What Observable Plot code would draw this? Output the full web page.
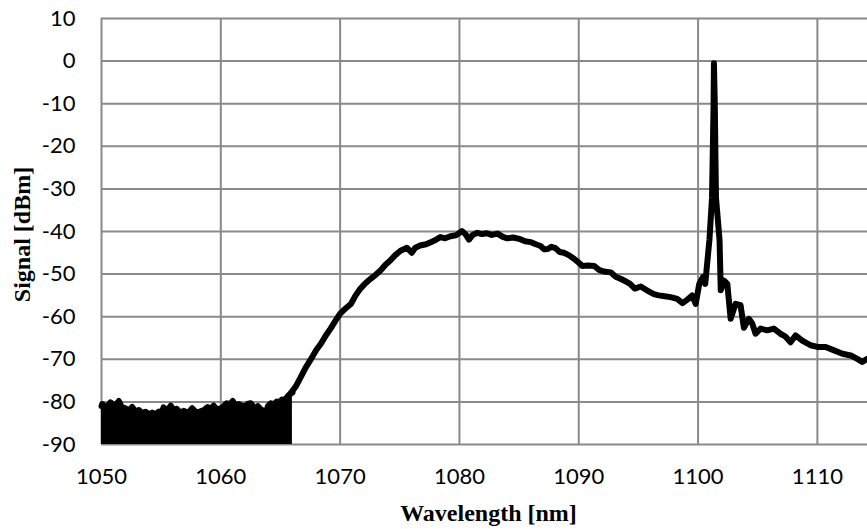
<!DOCTYPE html>
<html>
<head>
<meta charset="utf-8">
<script src="https://cdn.jsdelivr.net/npm/d3@7"></script>
<script src="https://cdn.jsdelivr.net/npm/@observablehq/plot@0.6"></script>
<style>
  html, body { margin: 0; padding: 0; background: #ffffff; }
  #chart { width: 867px; height: 529px; }
</style>
</head>
<body>
<div id="chart"></div>
<script>
// Noise floor (upper envelope of the dense noise band, filled down to -90)
const noiseNm = [1050.0, 1050.06, 1050.4, 1050.75, 1051.1, 1051.45, 1051.7, 1052.0, 1052.3, 1052.57, 1052.85, 1053.13, 1053.4, 1053.69, 1054.0, 1054.25, 1054.5, 1054.8, 1055.0, 1055.2, 1055.5, 1055.8, 1056.05, 1056.3, 1056.6, 1056.9, 1057.25, 1057.6, 1057.9, 1058.2, 1058.55, 1058.9, 1059.15, 1059.4, 1059.7, 1060.0, 1060.25, 1060.5, 1060.75, 1061.0, 1061.25, 1061.5, 1061.8, 1062.1, 1062.3, 1062.5, 1062.7, 1062.9, 1063.1, 1063.3, 1063.5, 1063.7, 1063.95, 1064.2, 1064.45, 1064.7, 1064.9, 1065.1, 1065.4, 1065.7, 1066.0];
const noiseDb = [-81.0, -80.5, -81.3, -80.1, -81.0, -79.8, -81.2, -81.5, -82.0, -81.2, -82.2, -81.9, -82.6, -82.3, -82.9, -82.5, -82.9, -82.3, -83.0, -81.3, -82.0, -80.9, -81.9, -81.6, -82.5, -82.1, -82.6, -81.5, -82.4, -82.3, -82.0, -81.2, -81.6, -80.9, -81.8, -81.5, -81.0, -80.3, -80.6, -79.8, -80.9, -80.5, -81.0, -80.9, -80.4, -80.3, -81.0, -81.5, -81.0, -81.6, -82.0, -83.3, -81.0, -80.3, -80.6, -79.9, -80.2, -79.5, -79.4, -78.4, -77.8];

// Main trace (rising edge, ASE hump, laser line, tail)
const signalNm = [1065.5, 1065.9, 1066.3, 1066.7, 1067.1, 1067.5, 1068.0, 1068.4, 1068.8, 1069.2, 1069.6, 1070.0, 1070.4, 1070.9, 1071.3, 1071.7, 1072.1, 1072.55, 1073.0, 1073.4, 1073.8, 1074.2, 1074.6, 1075.06, 1075.6, 1076.0, 1076.3, 1076.7, 1077.2, 1077.6, 1078.0, 1078.4, 1078.8, 1079.25, 1079.7, 1080.2, 1080.5, 1080.8, 1081.1, 1081.5, 1081.9, 1082.3, 1082.7, 1083.2, 1083.6, 1084.0, 1084.5, 1085.1, 1085.5, 1086.0, 1086.4, 1086.8, 1087.1, 1087.4, 1087.7, 1088.05, 1088.4, 1088.75, 1089.2, 1089.6, 1090.0, 1090.3, 1090.8, 1091.3, 1091.7, 1092.1, 1092.7, 1093.1, 1093.5, 1094.0, 1094.3, 1094.7, 1095.2, 1095.6, 1095.9, 1096.3, 1096.7, 1097.2, 1097.7, 1098.25, 1098.7, 1099.1, 1099.5, 1099.8, 1100.1, 1100.4, 1100.6, 1100.95, 1101.17, 1101.3, 1101.33, 1101.4, 1101.5, 1101.8, 1101.9, 1102.16, 1102.45, 1102.73, 1103.14, 1103.56, 1103.84, 1104.26, 1104.54, 1104.82, 1105.24, 1105.8, 1106.35, 1106.9, 1107.3, 1107.75, 1108.17, 1108.73, 1109.43, 1110.0, 1110.7, 1111.4, 1112.1, 1112.8, 1113.34, 1113.76, 1114.18];
const signalDb = [-79.3, -77.8, -76.3, -74.2, -72.0, -70.2, -67.8, -66.3, -64.4, -62.8, -61.0, -59.3, -58.2, -57.0, -55.0, -53.4, -52.2, -51.1, -50.1, -49.1, -47.8, -46.8, -45.6, -44.5, -43.8, -45.0, -43.8, -43.3, -43.0, -42.5, -42.0, -41.3, -41.6, -41.1, -40.9, -39.9, -40.6, -41.9, -40.8, -40.3, -40.6, -40.4, -40.8, -40.5, -41.2, -41.6, -41.4, -41.8, -42.3, -42.5, -43.0, -43.4, -44.2, -44.1, -43.6, -43.9, -44.8, -45.0, -45.6, -46.4, -47.3, -48.1, -48.0, -48.1, -49.0, -49.4, -49.6, -50.6, -51.1, -51.8, -52.3, -53.4, -52.9, -53.6, -54.1, -54.7, -55.0, -55.2, -55.4, -55.8, -56.8, -56.0, -55.0, -57.0, -52.3, -50.7, -52.3, -42.0, -32.0, -10.0, -0.5, -10.0, -32.0, -42.0, -53.8, -51.5, -52.3, -60.5, -57.0, -57.3, -62.6, -60.5, -61.6, -64.0, -62.8, -63.2, -62.8, -64.0, -64.6, -66.0, -64.4, -65.6, -66.7, -67.1, -67.1, -67.9, -68.7, -69.1, -69.9, -70.6, -69.9];

const xTicks = [1050, 1060, 1070, 1080, 1090, 1100, 1110];
const yTicks = [-90, -80, -70, -60, -50, -40, -30, -20, -10, 0, 10];
const xTitle = "Wavelength [nm]";
const yTitle = "Signal [dBm]";

const noise = noiseNm.map((x, i) => ({x, y: noiseDb[i]}));
const signal = signalNm.map((x, i) => ({x, y: signalDb[i]}));

const tickFont = "Lato, 'Open Sans', sans-serif";
const titleFont = "'Liberation Serif', 'DejaVu Serif', serif";
const gridColor = "#898989";

const chart = Plot.plot({
  width: 867,
  height: 529,
  marginLeft: 101,
  marginRight: 0,
  marginTop: 18,
  marginBottom: 85,
  style: {background: "#ffffff", color: "#000000"},
  x: {domain: [1050, 1114.2]},
  y: {domain: [-90, 10]},
  marks: [
    Plot.gridX(xTicks, {stroke: gridColor, strokeOpacity: 1, strokeWidth: 2}),
    Plot.gridY(yTicks, {stroke: gridColor, strokeOpacity: 1, strokeWidth: 2}),
    Plot.areaY(noise, {x: "x", y1: -90, y2: "y", fill: "#000000"}),
    Plot.line(noise, {x: "x", y: "y", stroke: "#000000", strokeWidth: 6}),
    Plot.line(signal, {x: "x", y: "y", stroke: "#000000", strokeWidth: 6}),
    Plot.axisX(xTicks, {tickSize: 0, tickPadding: 24, fontSize: 22, fontFamily: tickFont, fill: "#000", tickFormat: d => `${d}`, label: null}),
    Plot.axisY(yTicks, {tickSize: 0, tickPadding: 26, fontSize: 22, fontFamily: tickFont, fill: "#000", tickFormat: d => `${d}`, label: null}),
    Plot.text([xTitle], {frameAnchor: "bottom", dx: 4, dy: 69, text: d => d, fontSize: 24, fontWeight: "bold", fontFamily: titleFont, fill: "#000", textAnchor: "middle", lineAnchor: "middle"}),
    Plot.text([yTitle], {frameAnchor: "left", dx: -79, dy: 3, rotate: -90, text: d => d, fontSize: 24, fontWeight: "bold", fontFamily: titleFont, fill: "#000", textAnchor: "middle", lineAnchor: "middle"})
  ]
});
document.getElementById("chart").appendChild(chart);
</script>
</body>
</html>
